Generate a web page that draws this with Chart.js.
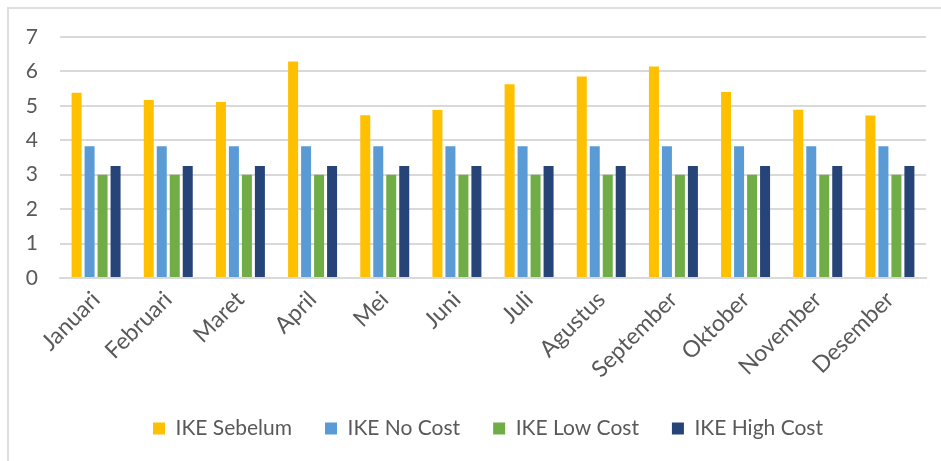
<!DOCTYPE html>
<html>
<head>
<meta charset="utf-8">
<script src="https://cdn.jsdelivr.net/npm/chart.js@4"></script>
<style>
  html, body { margin: 0; padding: 0; background: #fff; }
  #wrap { position: relative; width: 941px; height: 461px; overflow: hidden; }
  #frame { position: absolute; left: 7px; top: 7px; width: 1000px; height: 1000px; border-top: 2px solid #dedede; border-left: 2px solid #dedede; }
  canvas { position: absolute; left: 0; top: 0; }
</style>
</head>
<body>
<div id="wrap">
  <div id="frame"></div>
  <canvas id="c" width="941" height="461"></canvas>
</div>
<script>
const months = ["Januari","Februari","Maret","April","Mei","Juni","Juli","Agustus","September","Oktober","November","Desember"];
const ikeSebelum = [5.38, 5.17, 5.11, 6.29, 4.73, 4.88, 5.63, 5.85, 6.14, 5.40, 4.89, 4.72];
const ikeNoCost = [3.83, 3.83, 3.83, 3.83, 3.83, 3.83, 3.83, 3.83, 3.83, 3.83, 3.83, 3.83];
const ikeLowCost = [3.0, 3.0, 3.0, 3.0, 3.0, 3.0, 3.0, 3.0, 3.0, 3.0, 3.0, 3.0];
const ikeHighCost = [3.25, 3.25, 3.25, 3.25, 3.25, 3.25, 3.25, 3.25, 3.25, 3.25, 3.25, 3.25];
const yTicks = [0, 1, 2, 3, 4, 5, 6, 7];

const FONT = "Lato, 'Open Sans', sans-serif";
const TEXT = "#595959";

const shiftLegend = {
  id: 'shiftLegend',
  afterLayout(chart) {
    if (chart.legend) { chart.legend.left += 19; chart.legend.right += 19; }
  }
};

new Chart(document.getElementById('c'), {
  type: 'bar',
  data: {
    labels: months,
    datasets: [
      { label: 'IKE Sebelum', data: ikeSebelum, backgroundColor: '#FFC000' },
      { label: 'IKE No Cost', data: ikeNoCost, backgroundColor: '#5B9BD5' },
      { label: 'IKE Low Cost', data: ikeLowCost, backgroundColor: '#70AD47' },
      { label: 'IKE High Cost', data: ikeHighCost, backgroundColor: '#264478' }
    ]
  },
  plugins: [shiftLegend],
  options: {
    responsive: false,
    animation: false,
    devicePixelRatio: 1,
    datasets: { bar: { categoryPercentage: 0.72, barPercentage: 0.77 } },
    layout: { padding: { top: 37, left: 12, right: 15, bottom: 12 } },
    plugins: {
      tooltip: { enabled: false },
      legend: {
        position: 'bottom',
        labels: {
          boxWidth: 12, boxHeight: 12,
          padding: 33,
          color: TEXT,
          font: { family: FONT, size: 21 }
        }
      }
    },
    scales: {
      x: {
        grid: { display: false, drawTicks: false },
        border: { display: true, color: '#d9d9d9', width: 2 },
        ticks: {
          color: TEXT,
          font: { family: FONT, size: 23 },
          minRotation: 45, maxRotation: 45,
          padding: 8,
          autoSkip: false
        },
        afterFit: (s) => { s.height = 107; }
      },
      y: {
        min: 0, max: 7,
        afterBuildTicks: (s) => { s.ticks = yTicks.map(v => ({ value: v })); },
        grid: { color: '#d9d9d9', lineWidth: 2, drawTicks: false },
        border: { display: false },
        ticks: {
          color: TEXT,
          font: { family: FONT, size: 21 },
          padding: 22
        },
        afterFit: (s) => { s.width = 48; }
      }
    }
  }
});
</script>
</body>
</html>
